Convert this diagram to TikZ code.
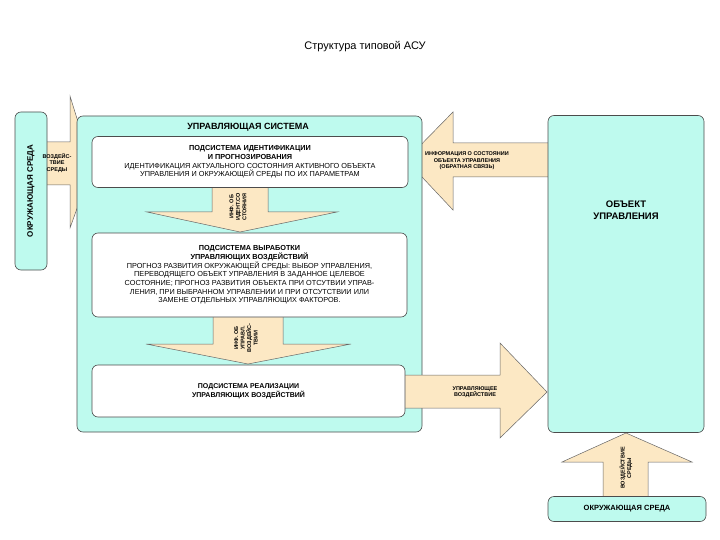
\documentclass[tikz,border=0pt]{standalone}
\usepackage{fontspec}
\setmainfont{Liberation Sans}
\definecolor{cyanbg}{RGB}{190,250,238}
\definecolor{arrbg}{RGB}{252,232,196}
\begin{document}
\begin{tikzpicture}[x=1pt,y=-1pt,
 box/.style={draw=black!70,line width=0.6pt,fill=cyanbg,rounded corners=6pt},
 sub/.style={draw=black!70,line width=0.6pt,fill=white,rounded corners=6pt},
 arr/.style={draw=black!60,line width=0.5pt,fill=arrbg},
 lbl/.style={font=\fontsize{5.5}{6.5}\selectfont\bfseries,align=center},
 txt/.style={font=\fontsize{7.3}{8.7}\selectfont,align=center}]
\useasboundingbox (0,0) rectangle (720,540);
\node[font=\fontsize{11}{13}\selectfont] (title) at (365,47) {Структура типовой АСУ};
% arrows (drawn first)
\draw[arr] (45,142) -- (70,142) -- (70,96) -- (92,167) -- (70,228) -- (70,185) -- (45,185) -- cycle;
\draw[arr] (550,143) -- (453,143) -- (453,112) -- (406,160) -- (453,210) -- (453,177) -- (550,177) -- cycle;
\draw[arr] (603,499) -- (603,462) -- (562,462) -- (626,433) -- (692,462) -- (648,462) -- (648,499) -- cycle;
% boxes
\node[box,minimum width=32pt,minimum height=158pt] (env) at (31,191) {};
\node[rotate=90,font=\fontsize{8}{9}\selectfont\bfseries] at (env) {ОКРУЖАЮЩАЯ СРЕДА};
\node[box,minimum width=345pt,minimum height=316pt] (cs) at (249.5,274) {};
\node[font=\fontsize{9}{10}\selectfont\bfseries] (cst) at (248,127) {УПРАВЛЯЮЩАЯ СИСТЕМА};
\node[box,minimum width=156pt,minimum height=317pt] (obj) at (626,274) {};
\node[font=\fontsize{9.5}{12}\selectfont\bfseries,align=center] at (626,210) {ОБЪЕКТ\\УПРАВЛЕНИЯ};
\node[box,minimum width=158pt,minimum height=25pt] (env2) at (627,509) {};
\node[font=\fontsize{7.5}{9}\selectfont\bfseries] at (env2) {ОКРУЖАЮЩАЯ СРЕДА};
% inner arrows
\draw[arr] (212,185) -- (212,212) -- (147,212) -- (240,232) -- (337,212) -- (268,212) -- (268,185) -- cycle;
\draw[arr] (213,315) -- (213,344) -- (146,344) -- (248,364) -- (351,344) -- (283,344) -- (283,315) -- cycle;
\draw[arr] (403,375) -- (500,375) -- (500,343) -- (547,392) -- (500,438) -- (500,408) -- (403,408) -- cycle;
% subsystems
\node[sub,minimum width=316pt,minimum height=51pt] (s1) at (250,162) {};
\node[txt] at (s1) {\textbf{ПОДСИСТЕМА ИДЕНТИФИКАЦИИ}\\\textbf{И ПРОГНОЗИРОВАНИЯ}\\ИДЕНТИФИКАЦИЯ АКТУАЛЬНОГО СОСТОЯНИЯ АКТИВНОГО ОБЪЕКТА\\УПРАВЛЕНИЯ И ОКРУЖАЮЩЕЙ СРЕДЫ ПО ИХ ПАРАМЕТРАМ};
\node[sub,minimum width=315pt,minimum height=84pt] (s2) at (249.5,275) {};
\node[txt] at (s2) {\textbf{ПОДСИСТЕМА ВЫРАБОТКИ}\\\textbf{УПРАВЛЯЮЩИХ ВОЗДЕЙСТВИЙ}\\ПРОГНОЗ РАЗВИТИЯ ОКРУЖАЮЩЕЙ СРЕДЫ: ВЫБОР УПРАВЛЕНИЯ,\\ПЕРЕВОДЯЩЕГО ОБЪЕКТ УПРАВЛЕНИЯ В ЗАДАННОЕ ЦЕЛЕВОЕ\\СОСТОЯНИЕ; ПРОГНОЗ РАЗВИТИЯ ОБЪЕКТА ПРИ ОТСУТВИИ УПРАВ-\\ЛЕНИЯ, ПРИ ВЫБРАННОМ УПРАВЛЕНИИ И ПРИ ОТСУТСТВИИ ИЛИ\\ЗАМЕНЕ ОТДЕЛЬНЫХ УПРАВЛЯЮЩИХ ФАКТОРОВ.};
\node[sub,minimum width=313pt,minimum height=52pt] (s3) at (248.5,391) {};
\node[txt,font=\fontsize{7}{9}\selectfont\bfseries] at (s3) {ПОДСИСТЕМА РЕАЛИЗАЦИИ\\УПРАВЛЯЮЩИХ ВОЗДЕЙСТВИЙ};
% arrow labels
\node[lbl] at (57,163) {ВОЗДЕЙС-\\ТВИЕ\\СРЕДЫ};
\node[lbl,rotate=90] at (238,207) {ИНФ. ОБ\\ИДЕНТ.СО\\СТОЯНИЯ};
\node[lbl,rotate=90] at (246,338) {ИНФ. ОБ\\УПРАВЛ.\\ВОЗДЕЙС-\\ТВИИ};
\node[lbl] at (467,161) {ИНФОРМАЦИЯ О СОСТОЯНИИ\\ОБЪЕКТА УПРАВЛЕНИЯ\\(ОБРАТНАЯ СВЯЗЬ)};
\node[lbl] at (475,392) {УПРАВЛЯЮЩЕЕ\\ВОЗДЕЙСТВИЕ};
\node[lbl,rotate=90] at (626,468) {ВОЗДЕЙСТВИЕ\\СРЕДЫ};
\end{tikzpicture}
\end{document}
